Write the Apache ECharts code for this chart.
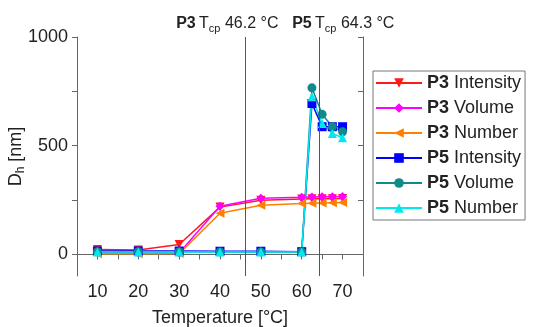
<!DOCTYPE html>
<html>
<head>
<meta charset="utf-8">
<script src="https://cdn.jsdelivr.net/npm/echarts@6/dist/echarts.min.js"></script>
<style>
  html, body { margin: 0; padding: 0; background: #fff; }
  #chart { width: 533px; height: 327px; }
</style>
</head>
<body>
<div id="chart"></div>
<script>
// temperatures (°C)
const temps = [10, 20, 30, 40, 50, 60, 62.5, 65, 67.5, 70];

// hydrodynamic diameter Dh (nm)
const p3Intensity = [22, 20, 45, 217, 249, 254, 255, 256, 256, 257];
const p3Volume    = [8, 6, 6, 221, 258, 262, 264, 265, 265, 266];
const p3Number    = [2, 2, 3, 189, 226, 234, 235, 236, 237, 238];
const p5Intensity = [15, 15, 15, 14, 14, 12, 694, 587, 587, 587];
const p5Volume    = [12, 12, 12, 11, 11, 11, 766, 644, 587, 564];
const p5Number    = [10, 10, 10, 10, 10, 10, 725, 602, 556, 536];

// cloud points
const tcpNames  = ['P3', 'P5'];
const tcpValues = [46.2, 64.3];

// ticks
const xLabels = [10, 20, 30, 40, 50, 60, 70];
const yLabels = [0, 500, 1000];
const yTicks  = [0, 250, 500, 750, 1000];

const font = 'Liberation Sans, Arial, sans-serif';

const chart = echarts.init(document.getElementById('chart'));

function mk(name, data, color, symbol, rotate) {
  return {
    name: name,
    type: 'line',
    data: temps.map((t, i) => [t, data[i]]),
    symbol: symbol,
    symbolSize: 9,
    symbolRotate: rotate || 0,
    lineStyle: { color: color, width: 1.5 },
    itemStyle: { color: color },
    emphasis: { disabled: true }
  };
}

const series = [
  mk('P3 Intensity', p3Intensity, '#ff1a1a', 'triangle', 180),
  mk('P3 Volume', p3Volume, '#ff00ff', 'diamond'),
  mk('P3 Number', p3Number, '#ff8000', 'triangle', 90),
  mk('P5 Intensity', p5Intensity, '#0000ff', 'rect'),
  mk('P5 Volume', p5Volume, '#138a8a', 'circle'),
  mk('P5 Number', p5Number, '#00e8f0', 'triangle')
];

// vertical Tcp lines with labels on top
series.push({
  type: 'line',
  data: [],
  silent: true,
  markLine: {
    symbol: 'none',
    silent: true,
    lineStyle: { color: '#555', width: 1, type: 'solid' },
    data: tcpValues.map((v, i) => ({
      xAxis: v,
      label: {
        show: true,
        position: 'end',
        distance: 3,
        offset: [i === 0 ? -18 : 24, 0],
        formatter: '{b|' + tcpNames[i] + '} {n|T}{s|cp}{n| ' + v.toFixed(1) + ' °C}',
        rich: {
          b: { fontFamily: font, fontSize: 16, fontWeight: 'bold', color: '#222' },
          n: { fontFamily: font, fontSize: 16, color: '#222' },
          s: { fontFamily: font, fontSize: 11, color: '#222', padding: [9, 0, 0, 0] }
        }
      }
    }))
  }
});

const option = {
  animation: false,
  grid: { left: 77, top: 37, right: 170, bottom: 51, containLabel: false, outerBoundsMode: 'none' },
  legend: {
    orient: 'vertical',
    left: 373,
    top: 71,
    data: series.slice(0, 6).map(s => s.name),
    itemWidth: 46,
    itemHeight: 12,
    itemGap: 7,
    padding: [3, 4, 3, 2],
    borderColor: '#777',
    borderWidth: 1,
    formatter: name => {
      const p = name.split(' ');
      return '{b|' + p[0] + '} ' + p[1];
    },
    textStyle: {
      fontFamily: font, fontSize: 18, color: '#222',
      rich: { b: { fontFamily: font, fontSize: 18, fontWeight: 'bold', color: '#222' } }
    }
  },
  xAxis: [{
    type: 'value',
    min: 5, max: 75, interval: 5,
    name: 'Temperature [°C]',
    nameLocation: 'middle',
    nameGap: 33,
    nameTextStyle: { fontFamily: font, fontSize: 18, color: '#222' },
    axisLine: { show: true, lineStyle: { color: '#666' } },
    axisTick: { show: true, inside: false, length: 5, lineStyle: { color: '#666' } },
    axisLabel: { customValues: xLabels, fontFamily: font, fontSize: 18, color: '#222', margin: 7 },
    splitLine: { show: false }
  }, {
    type: 'value',
    position: 'top',
    min: 5, max: 75, interval: 5,
    axisLine: { show: true, lineStyle: { color: '#666' } },
    axisTick: { show: true, inside: true, length: 5, lineStyle: { color: '#666' } },
    axisLabel: { show: false },
    splitLine: { show: false }
  }],
  yAxis: [{
    type: 'value',
    min: -100, max: 1000, interval: 100,
    name: '{n|D}{s|h}{n| [nm]}',
    nameLocation: 'middle',
    nameGap: 50,
    nameMoveOverlap: false,
    nameTextStyle: {
      rich: {
        n: { fontFamily: font, fontSize: 18, color: '#222' },
        s: { fontFamily: font, fontSize: 12, color: '#222', padding: [10, 0, 0, 0] }
      }
    },
    axisLine: { show: true, lineStyle: { color: '#666' } },
    axisTick: { show: true, inside: false, length: 5, customValues: yTicks, lineStyle: { color: '#666' } },
    axisLabel: {
      customValues: yLabels, formatter: v => String(v),
      fontFamily: font, fontSize: 18, color: '#222', margin: 9
    },
    splitLine: { show: false }
  }, {
    type: 'value',
    position: 'right',
    min: -100, max: 1000, interval: 100,
    axisLine: { show: true, lineStyle: { color: '#666' } },
    axisTick: { show: true, inside: true, length: 5, customValues: yTicks, lineStyle: { color: '#666' } },
    axisLabel: { show: false },
    splitLine: { show: false }
  }],
  series: series
};

chart.setOption(option);
</script>
</body>
</html>
